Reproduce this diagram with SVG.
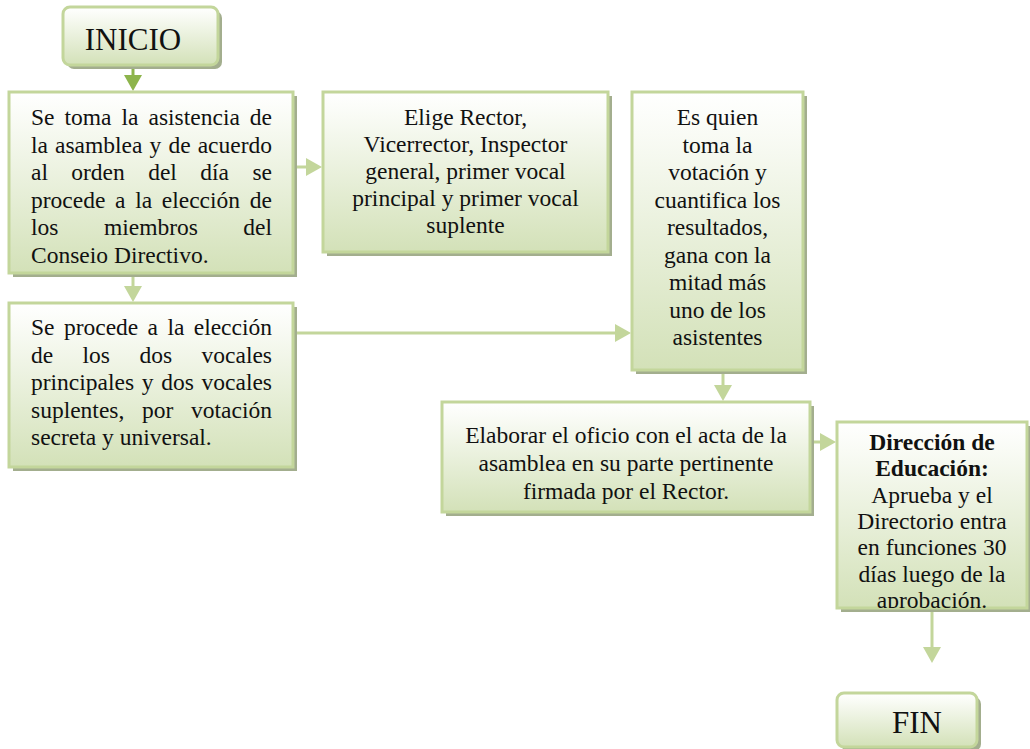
<svg xmlns="http://www.w3.org/2000/svg" width="1030" height="749" viewBox="0 0 1030 749">
<style>
.box{stroke:#c3d69b;stroke-width:3;fill:url(#g)}
.sh{fill:#a3ae8e}
.t{font-family:"Liberation Serif","Times New Roman",serif;font-size:23.5px;fill:#111}
.c{text-anchor:middle}
.e{text-anchor:end}
.b{font-weight:bold}
.big{font-family:"Liberation Serif","Times New Roman",serif;font-size:31px;fill:#111;text-anchor:middle}
.con{fill:none;stroke:#c3d69b;stroke-width:3;marker-end:url(#ah)}
.con0{fill:none;stroke:#8db44c;stroke-width:3;marker-end:url(#ah0)}
</style>
<defs>
<linearGradient id="g" x1="0" y1="0" x2="0" y2="1">
<stop offset="0" stop-color="#ffffff"/>
<stop offset="0.15" stop-color="#f9fbf5"/>
<stop offset="1" stop-color="#d3e1b8"/>
</linearGradient>
<marker id="ah" viewBox="0 0 16 18" refX="6" refY="9" markerWidth="16" markerHeight="18" markerUnits="userSpaceOnUse" orient="auto">
<path d="M0,0 L16,9 L0,18 Z" fill="#c3d69b"/>
</marker>
<marker id="ah0" viewBox="0 0 16 18" refX="6" refY="9" markerWidth="16" markerHeight="18" markerUnits="userSpaceOnUse" orient="auto">
<path d="M0,0 L16,9 L0,18 Z" fill="#8db44c"/>
</marker>
<clipPath id="clipDir"><rect x="837" y="422" width="190" height="186"/></clipPath>
</defs>
<rect width="1030" height="749" fill="#ffffff"/>

<g id="connectors">
<path class="con0" d="M133,66 V81"/>
<path class="con" d="M297,167 H312"/>
<path class="con" d="M133,277 V292"/>
<path class="con" d="M297,333 H621"/>
<path class="con" d="M723,374 V391"/>
<path class="con" d="M814,442 H826"/>
<path class="con" d="M932,612 V653"/>
</g>

<g id="inicio">
<rect class="sh" x="67" y="11" width="155" height="58" rx="7"/>
<rect class="box" x="63" y="7" width="155" height="58" rx="7"/>
<text class="big" x="133" y="50">INICIO</text>
</g>

<g id="n1">
<rect class="sh" x="13" y="96" width="284" height="181"/>
<rect class="box" x="9" y="92" width="284" height="181"/>
<g class="t">
<text y="125"><tspan x="31">Se</tspan><tspan x="64.5">toma</tspan><tspan x="121.5">la</tspan><tspan x="148.5">asistencia</tspan></text>
<text class="e" x="272" y="125">de</text>
<text y="152.5"><tspan x="31">la</tspan><tspan x="55">asamblea</tspan><tspan x="149.5">y</tspan><tspan x="168.4">de</tspan></text>
<text class="e" x="272" y="152.5">acuerdo</text>
<text y="180"><tspan x="31">al</tspan><tspan x="71.3">orden</tspan><tspan x="148.2">del</tspan><tspan x="200.3">día</tspan></text>
<text class="e" x="272" y="180">se</text>
<text y="207.5"><tspan x="31">procede</tspan><tspan x="115.1">a</tspan><tspan x="135.2">la</tspan><tspan x="161.8">elección</tspan></text>
<text class="e" x="272" y="207.5">de</text>
<text y="235"><tspan x="31">los</tspan><tspan x="103.9">miembros</tspan></text>
<text class="e" x="272" y="235">del</text>
<text x="31" y="262.5">Conseio Directivo.</text>
</g>
</g>

<g id="n2">
<rect class="sh" x="327" y="96" width="285" height="160"/>
<rect class="box" x="323" y="92" width="285" height="160"/>
<g class="t c">
<text x="465.5" y="125">Elige Rector,</text>
<text x="465.5" y="152">Vicerrector, Inspector</text>
<text x="465.5" y="179">general, primer vocal</text>
<text x="465.5" y="206">principal y primer vocal</text>
<text x="465.5" y="233">suplente</text>
</g>
</g>

<g id="n3">
<rect class="sh" x="636" y="96" width="171" height="278"/>
<rect class="box" x="632" y="92" width="171" height="278"/>
<g class="t c">
<text x="717.5" y="125">Es quien</text>
<text x="717.5" y="152.5">toma la</text>
<text x="717.5" y="180">votación y</text>
<text x="717.5" y="207.5">cuantifica los</text>
<text x="717.5" y="235">resultados,</text>
<text x="717.5" y="262.5">gana con la</text>
<text x="717.5" y="290">mitad más</text>
<text x="717.5" y="317.5">uno de los</text>
<text x="717.5" y="345">asistentes</text>
</g>
</g>

<g id="n4">
<rect class="sh" x="13" y="307" width="284" height="164"/>
<rect class="box" x="9" y="303" width="284" height="164"/>
<g class="t">
<text y="335"><tspan x="31">Se</tspan><tspan x="63.9">procede</tspan><tspan x="147.6">a</tspan><tspan x="167.4">la</tspan></text>
<text class="e" x="272" y="335">elección</text>
<text y="362.5"><tspan x="31">de</tspan><tspan x="82.6">los</tspan><tspan x="139.5">dos</tspan></text>
<text class="e" x="272" y="362.5">vocales</text>
<text y="390"><tspan x="31">principales</tspan><tspan x="141.8">y</tspan><tspan x="161.2">dos</tspan></text>
<text class="e" x="272" y="390">vocales</text>
<text y="417.5"><tspan x="31">suplentes,</tspan><tspan x="142">por</tspan></text>
<text class="e" x="272" y="417.5">votación</text>
<text x="31" y="445">secreta y universal.</text>
</g>
</g>

<g id="n5">
<rect class="sh" x="446" y="406" width="368" height="110"/>
<rect class="box" x="442" y="402" width="368" height="110"/>
<g class="t c">
<text x="626" y="443">Elaborar el oficio con el acta de la</text>
<text x="626" y="471">asamblea en su parte pertinente</text>
<text x="626" y="499">firmada por el Rector.</text>
</g>
</g>

<g id="n6">
<rect class="sh" x="841" y="426" width="190" height="186"/>
<rect class="box" x="837" y="422" width="190" height="186"/>
<g class="t c" clip-path="url(#clipDir)">
<text class="b" x="932" y="450">Dirección de</text>
<text class="b" x="932" y="476.3">Educación:</text>
<text x="932" y="502.6">Aprueba y el</text>
<text x="932" y="528.9">Directorio entra</text>
<text x="932" y="555.2">en funciones 30</text>
<text x="932" y="581.5">días luego de la</text>
<text x="932" y="607.8">aprobación.</text>
</g>
</g>

<g id="fin">
<rect class="sh" x="841" y="697" width="140" height="54" rx="7"/>
<rect class="box" x="837" y="693" width="140" height="54" rx="7"/>
<text class="big" x="917" y="733">FIN</text>
</g>
</svg>
